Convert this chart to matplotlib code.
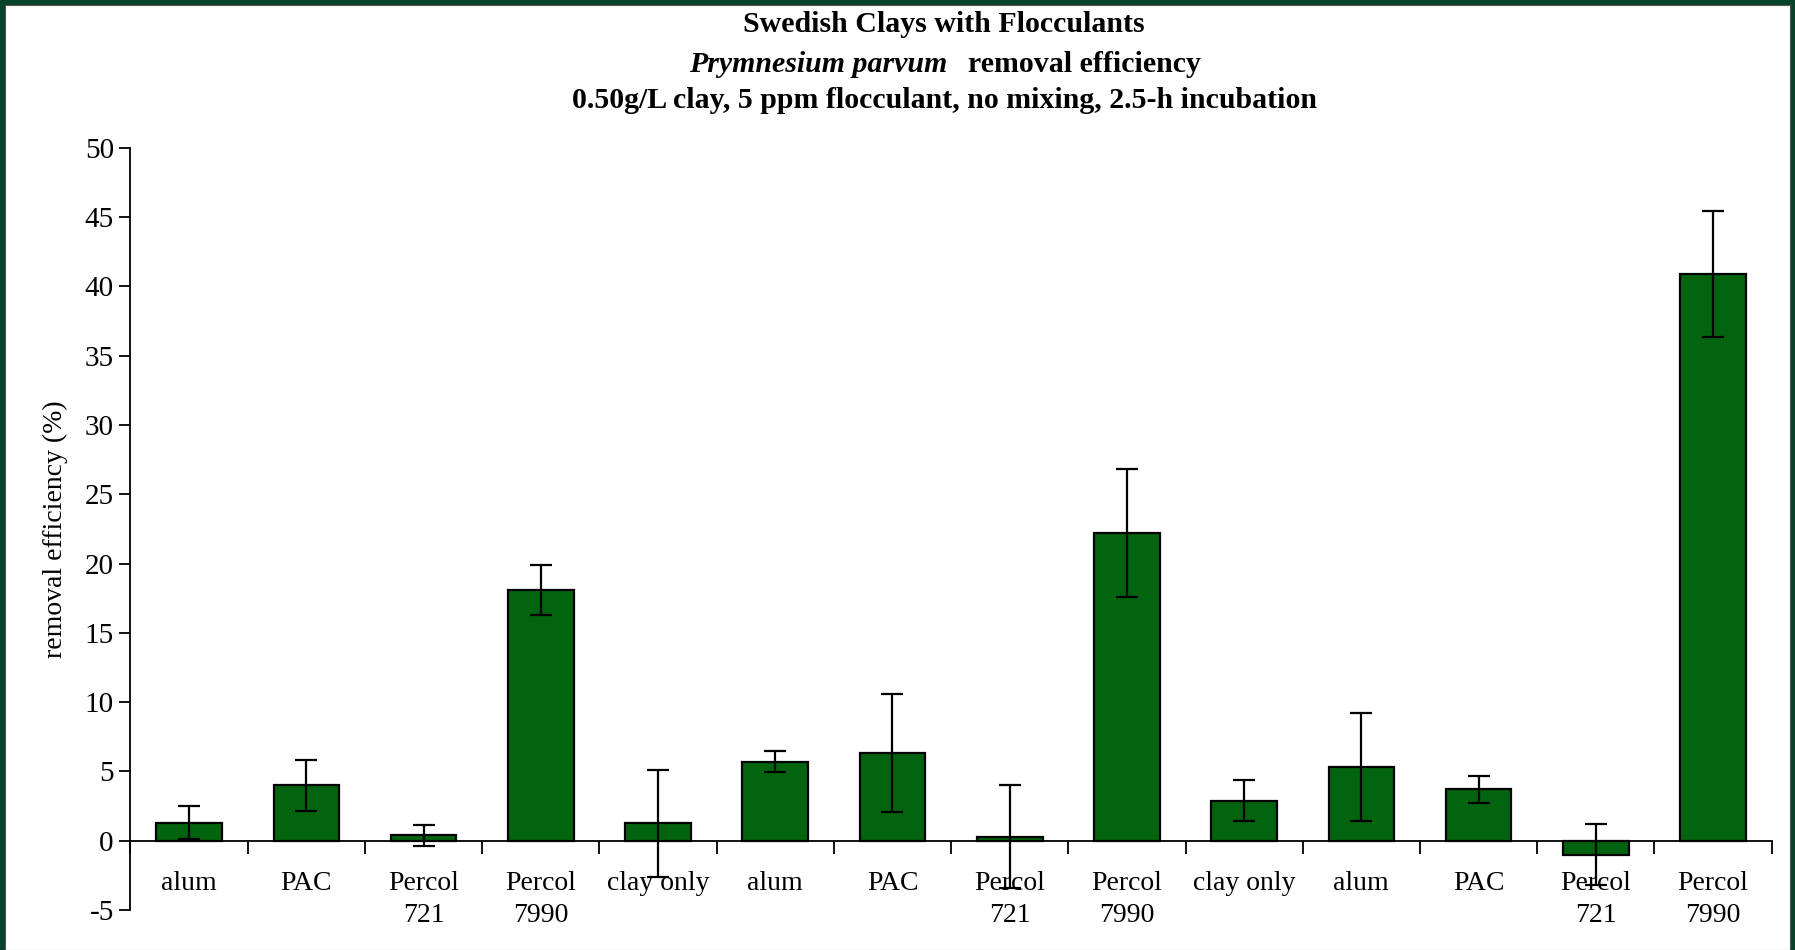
import matplotlib.pyplot as plt
import matplotlib.patches as mpatches
import numpy as np

# removal efficiency per treatment, three clays x (flocculants + clay only)
labels = ['alum', 'PAC', 'Percol\n721', 'Percol\n7990', 'clay only',
          'alum', 'PAC', 'Percol\n721', 'Percol\n7990', 'clay only',
          'alum', 'PAC', 'Percol\n721', 'Percol\n7990']
efficiency = [1.3, 4.0, 0.4, 18.1, 1.25, 5.7, 6.35, 0.3, 22.2, 2.9, 5.3, 3.7, -1.0, 40.9]
std_err = [1.2, 1.85, 0.75, 1.8, 3.85, 0.75, 4.25, 3.7, 4.6, 1.5, 3.9, 0.95, 2.2, 4.55]
y_ticks = [-5, 0, 5, 10, 15, 20, 25, 30, 35, 40, 45, 50]

plt.rcParams['font.family'] = ['Liberation Serif', 'DejaVu Serif']
plt.rcParams['axes.unicode_minus'] = False

fig = plt.figure(figsize=(17.95, 9.5), dpi=100, facecolor='#07432c')
# white panel inside the dark frame
fig.patches.append(mpatches.Rectangle((5 / 1795, 0), 1 - 10 / 1795, 1 - 5 / 950,
                                      transform=fig.transFigure, facecolor='white',
                                      edgecolor='#555555', linewidth=0.8, zorder=-10))

ax = fig.add_axes([0.0727, 0.0421, 0.9143, 0.8024])
ax.set_facecolor('none')
ax.set_zorder(5)

x = np.arange(len(labels))
ax.bar(x, efficiency, width=0.56, color='#03640f', edgecolor='black', linewidth=1.6, zorder=2)
ax.errorbar(x, efficiency, yerr=std_err, fmt='none', ecolor='black',
            elinewidth=1.6, capsize=8, capthick=1.6, zorder=3)

ax.set_xlim(-0.5, len(labels) - 0.5)
ax.set_ylim(-5, 50)
ax.set_yticks(y_ticks)
ax.tick_params(axis='y', direction='out', length=8, width=1.3, labelsize=21, pad=4)

for s in ['top', 'right']:
    ax.spines[s].set_visible(False)
ax.spines['left'].set_linewidth(1.3)
ax.spines['bottom'].set_position(('data', 0))
ax.spines['bottom'].set_linewidth(1.3)

ax.set_xticks(x)
ax.set_xticklabels(labels, fontsize=20, linespacing=1.35)
ax.set_xticks(np.arange(len(labels) + 1) - 0.5, minor=True)
ax.tick_params(axis='x', which='major', length=0, pad=22)
ax.tick_params(axis='x', which='minor', direction='out', length=9, width=1.3)

ax.set_ylabel('removal efficiency (%)', fontsize=20, labelpad=12)

# three-line title centred over the plot area
fig.text(0.526, 1 - 25 / 950, 'Swedish Clays with Flocculants', ha='center', va='center',
         fontsize=21.5, fontweight='bold')
fig.text(0.5276, 1 - 64 / 950, 'Prymnesium parvum', ha='right', va='center',
         fontsize=21.5, style='italic', fontweight='bold')
fig.text(0.539, 1 - 64 / 950, 'removal efficiency', ha='left', va='center',
         fontsize=21.5, fontweight='bold')
fig.text(0.526, 1 - 100 / 950, '0.50g/L clay, 5 ppm flocculant, no mixing, 2.5-h incubation',
         ha='center', va='center', fontsize=21.5, fontweight='bold')

fig.savefig('out.png', dpi=100, facecolor=fig.get_facecolor())
